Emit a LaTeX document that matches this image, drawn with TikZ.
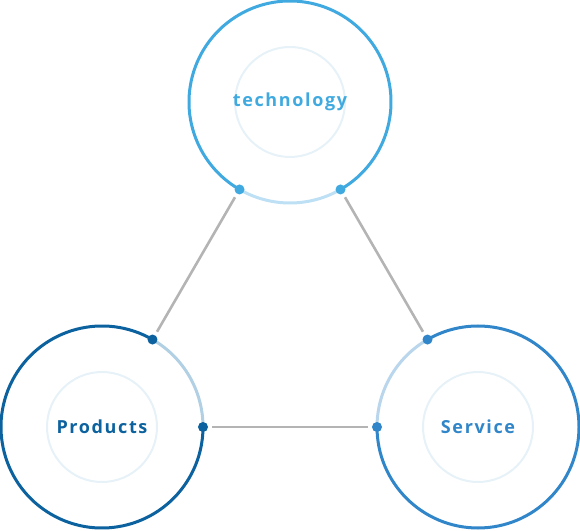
\documentclass[tikz,border=0pt]{standalone}
\usepackage{fontspec}
\newfontfamily\lblfont[LetterSpace=9]{Open Sans}
\definecolor{techc}{RGB}{64,170,224}
\definecolor{techl}{RGB}{190,224,244}
\definecolor{prodc}{RGB}{12,98,158}
\definecolor{prodl}{RGB}{178,208,228}
\definecolor{servc}{RGB}{48,134,200}
\definecolor{servl}{RGB}{186,214,236}
\definecolor{innerc}{RGB}{230,242,248}
\definecolor{linec}{RGB}{180,180,180}
\tikzset{
  ring/.style={circle,minimum size=202pt,inner sep=0pt,outer sep=0pt},
  outer/.style={line width=3pt},
  inner/.style={draw=innerc,line width=2pt,circle,minimum size=110pt,inner sep=0pt},
  lbl/.style={inner sep=0pt,font=\lblfont\bfseries\fontsize{18}{21}\selectfont},
  dotm/.style={circle,inner sep=0pt,minimum size=10pt},
  link/.style={draw=linec,line width=2.6pt,shorten <=9pt,shorten >=9pt},
}
\begin{document}
\begin{tikzpicture}[x=1pt,y=1pt]
\useasboundingbox (0,0) rectangle (580,530);
% rings
\node[ring] (T) at (290,428) {};
\node[ring] (P) at (102,103) {};
\node[ring] (S) at (478,103) {};
% technology
\draw[outer,techc] (T.-60) arc[start angle=-60,end angle=240,radius=101pt];
\draw[outer,techl] (T.-120) arc[start angle=-120,end angle=-60,radius=101pt];
\node[inner] (ti) at (T) {};
\node[lbl,text=techc] (tl) at (T) {technology};
% products
\draw[outer,prodc] (P.60) arc[start angle=60,end angle=360,radius=101pt];
\draw[outer,prodl] (P.0) arc[start angle=0,end angle=60,radius=101pt];
\node[inner] (pi) at (P) {};
\node[lbl,text=prodc] (pl) at (P) {Products};
% service
\draw[outer,servc] (S.180) arc[start angle=180,end angle=480,radius=101pt];
\draw[outer,servl] (S.120) arc[start angle=120,end angle=180,radius=101pt];
\node[inner] (si) at (S) {};
\node[lbl,text=servc] (sl) at (S) {Service};
% dots
\node[dotm,fill=techc] (t1) at (T.-120) {};
\node[dotm,fill=techc] (t2) at (T.-60) {};
\node[dotm,fill=prodc] (p1) at (P.60) {};
\node[dotm,fill=prodc] (p2) at (P.0) {};
\node[dotm,fill=servc] (s1) at (S.120) {};
\node[dotm,fill=servc] (s2) at (S.180) {};
% links
\draw[link] (t1.center) -- (p1.center);
\draw[link] (t2.center) -- (s1.center);
\draw[link] (p2.center) -- (s2.center);
\end{tikzpicture}
\end{document}
